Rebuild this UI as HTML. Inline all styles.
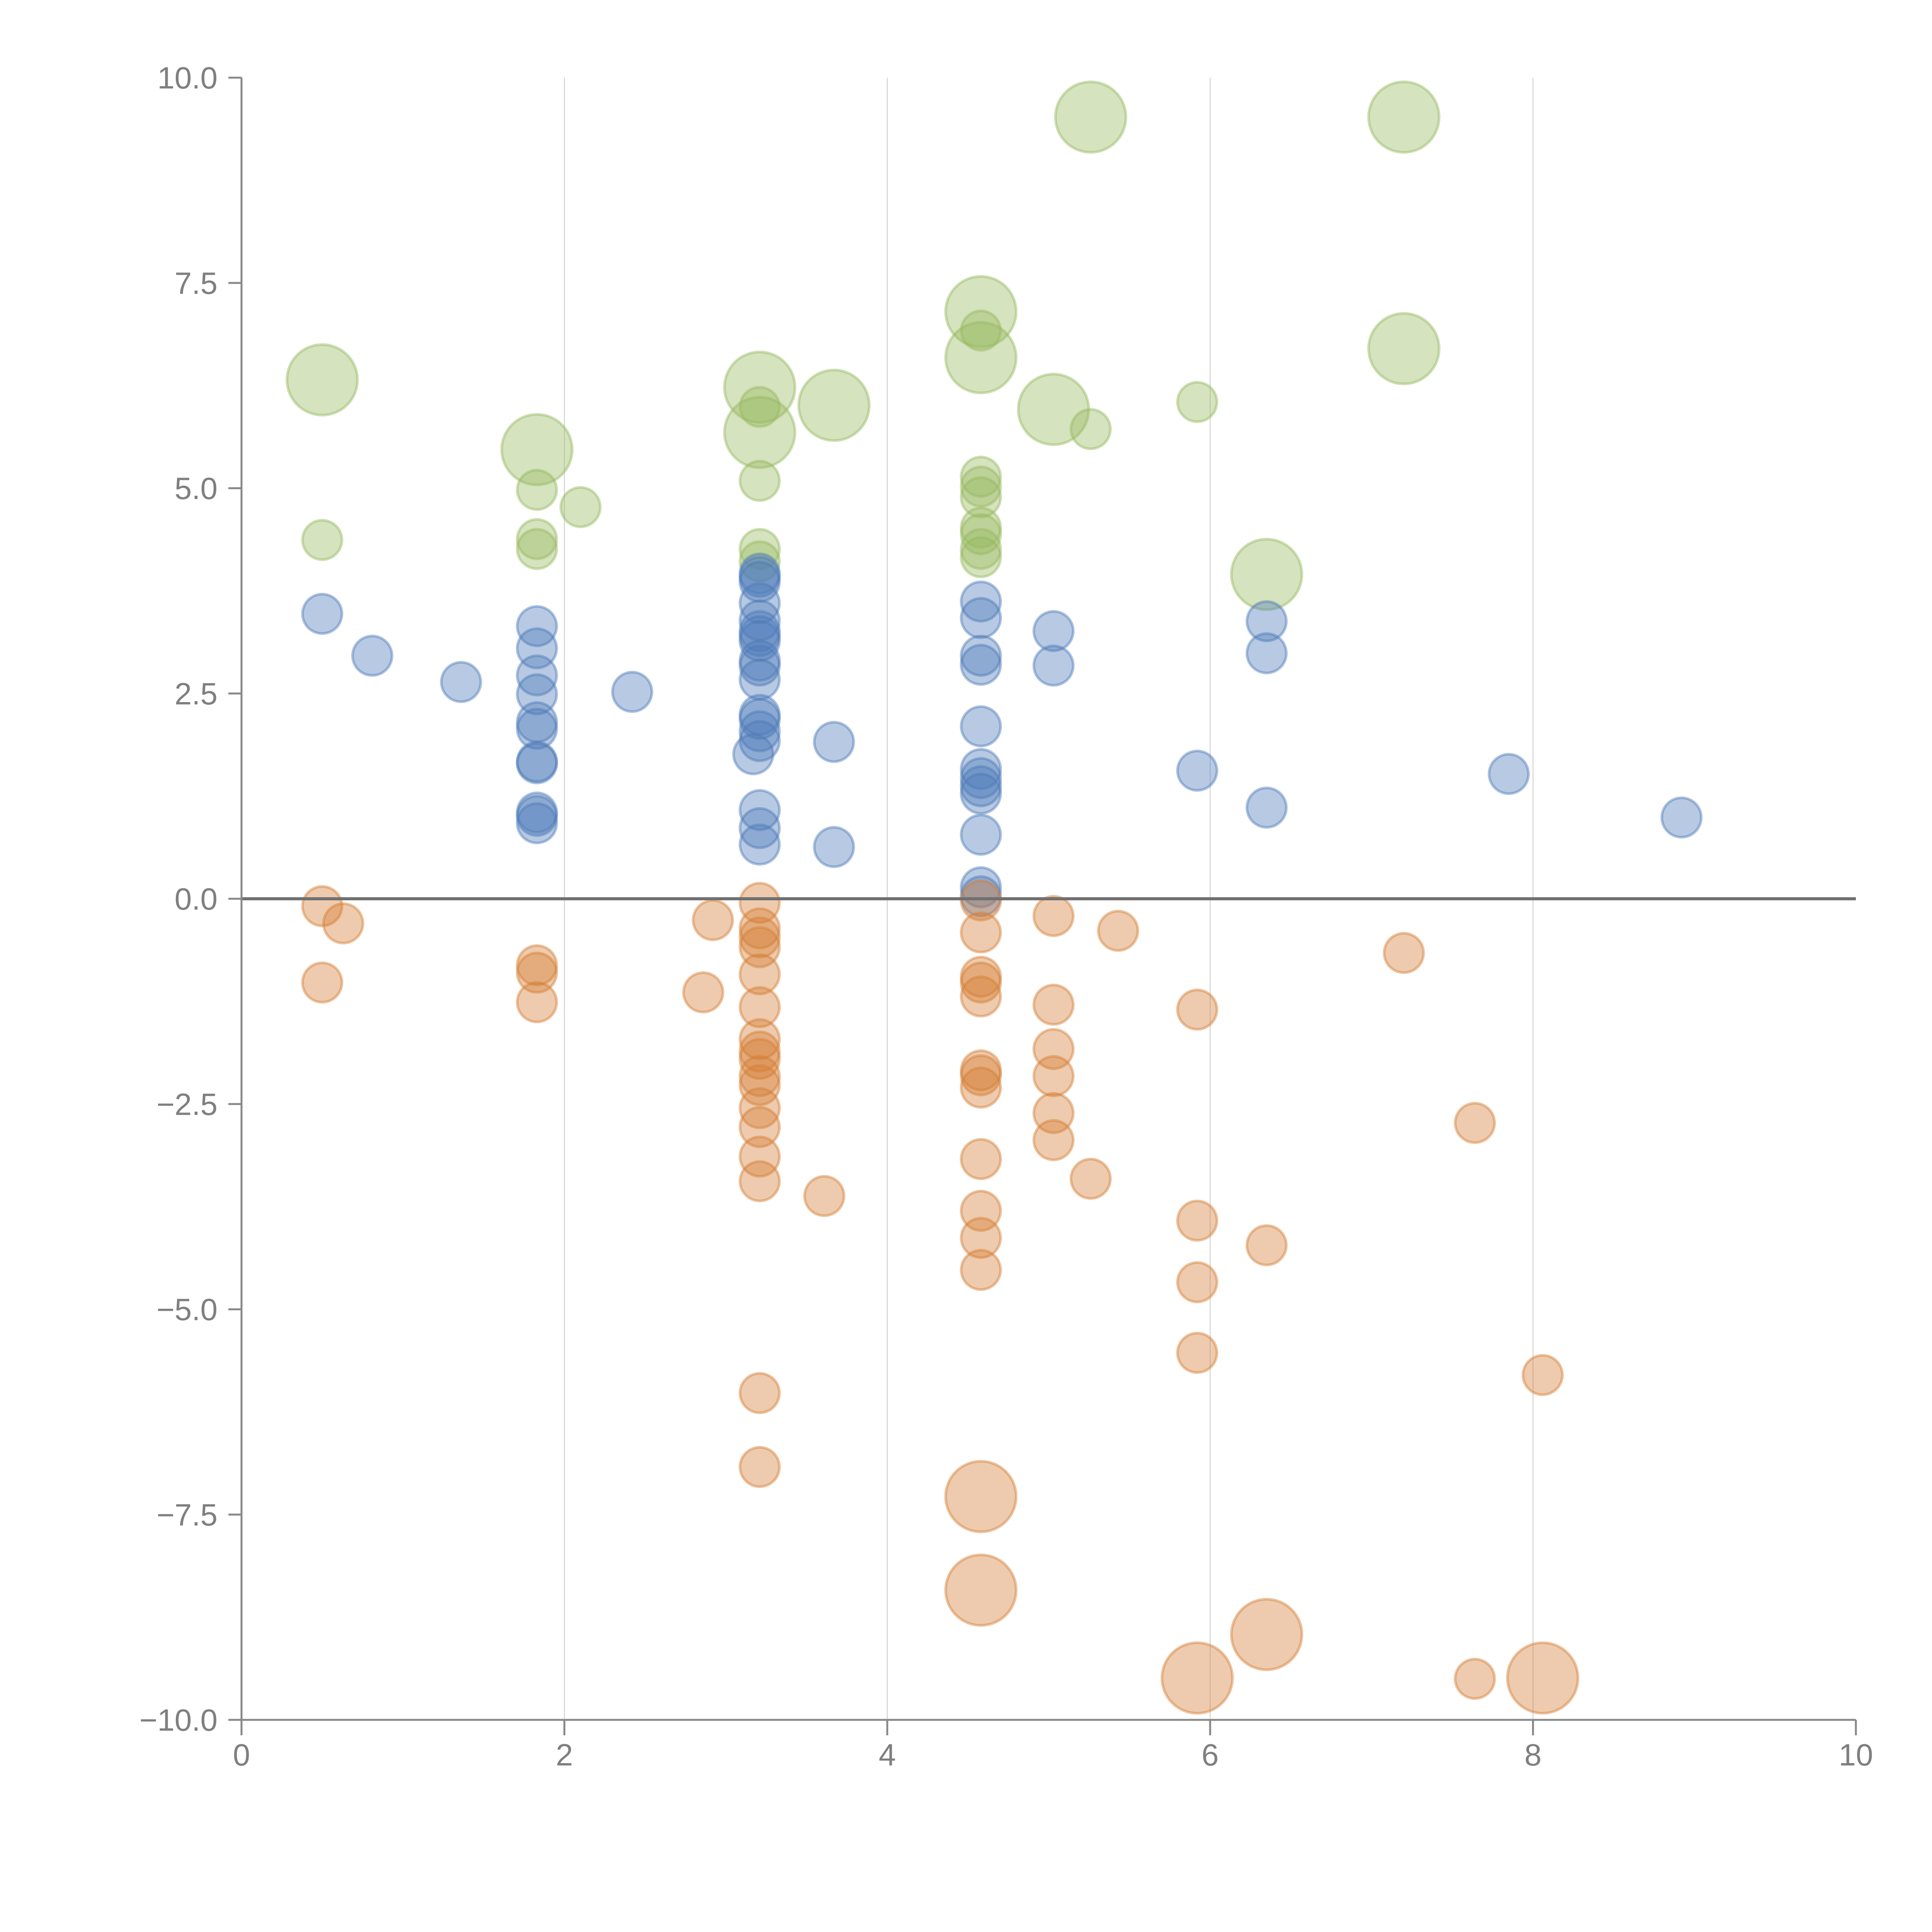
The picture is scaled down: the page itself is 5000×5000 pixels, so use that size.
<!DOCTYPE html>
<html><head><meta charset="utf-8">
<style>
html,body{margin:0;padding:0;background:#fff;}
svg{display:block;}
text{font-family:"Liberation Sans",Arial,sans-serif;fill:#7f7f7f;}
</style></head>
<body>
<svg id="chart" width="5000" height="5000" viewBox="0 0 5000 5000" xmlns="http://www.w3.org/2000/svg">
<g id="grid"></g>
<g id="marks"></g>
<g id="axes"></g>
</svg>
<script>
const xTicks = [0, 2, 4, 6, 8, 10];
const xTickLabels = ["0", "2", "4", "6", "8", "10"];
const yTicks = [-10, -7.5, -5, -2.5, 0, 2.5, 5, 7.5, 10];
const yTickLabels = ["\u221210.0", "\u22127.5", "\u22125.0", "\u22122.5", "0.0", "2.5", "5.0", "7.5", "10.0"];

const greenX = [0.50,0.50,1.83,1.83,1.83,1.83,2.10,3.21,3.21,3.21,3.21,3.21,3.21,3.67,4.58,4.58,4.58,4.58,4.58,4.58,4.58,4.58,4.58,4.58,5.03,5.26,5.26,5.92,6.35,7.20,7.20];
const greenY = [6.32,4.37,5.47,4.98,4.38,4.26,4.77,6.23,5.68,5.99,5.09,4.26,4.11,6.01,7.15,6.92,6.59,5.14,5.02,4.89,4.52,4.44,4.26,4.16,5.96,5.72,9.52,6.05,3.95,9.52,6.70];
const greenS = [32,10,32,10,10,10,10,32,32,10,10,10,10,32,32,10,32,10,10,10,10,10,10,10,32,10,32,10,32,32,32];

const blueX = [0.50,0.81,1.36,1.83,1.83,1.83,1.83,1.83,1.83,1.83,1.83,1.83,1.83,1.83,2.42,3.21,3.21,3.21,3.21,3.21,3.21,3.21,3.21,3.21,3.21,3.21,3.21,3.21,3.21,3.21,3.17,3.21,3.21,3.21,3.67,3.67,4.58,4.58,4.58,4.58,4.58,4.58,4.58,4.58,4.58,4.58,4.58,4.58,5.03,5.03,5.92,6.35,6.35,6.35,7.85,8.92];
const blueY = [3.47,2.96,2.64,3.32,3.05,2.72,2.49,2.15,2.07,1.67,1.65,1.05,1.01,0.92,2.52,3.96,3.92,3.86,3.60,3.39,3.26,3.20,3.14,2.90,2.84,2.67,2.24,2.19,2.04,1.92,1.76,1.08,0.86,0.66,1.91,0.63,3.62,3.42,2.96,2.85,2.10,1.58,1.47,1.37,1.28,0.78,0.14,0.03,3.26,2.84,1.56,3.38,2.99,1.11,1.52,0.99];

const orangeX = [0.50,0.63,0.50,1.83,1.83,1.83,2.86,2.92,3.21,3.21,3.21,3.21,3.21,3.21,3.21,3.21,3.21,3.21,3.21,3.21,3.21,3.21,3.21,3.21,3.21,3.61,4.58,4.58,4.58,4.58,4.58,4.58,4.58,4.58,4.58,4.58,4.58,4.58,4.58,4.58,5.03,5.03,5.03,5.03,5.03,5.03,5.26,5.43,5.92,5.92,5.92,5.92,5.92,6.35,6.35,7.20,7.64,7.64,8.06,8.06];
const orangeY = [-0.09,-0.30,-1.02,-0.81,-0.90,-1.26,-1.14,-0.26,-0.05,-0.36,-0.47,-0.59,-0.92,-1.32,-1.71,-1.86,-1.95,-2.16,-2.27,-2.55,-2.78,-3.14,-3.44,-6.02,-6.92,-3.62,-0.02,-0.41,-0.95,-1.02,-1.19,-2.09,-2.15,-2.30,-3.17,-3.80,-4.13,-4.52,-7.28,-8.42,-0.21,-1.29,-1.83,-2.16,-2.61,-2.94,-3.41,-0.39,-1.35,-3.92,-4.67,-5.53,-9.49,-4.22,-8.96,-0.66,-2.73,-9.50,-5.80,-9.49];
const orangeS = [10,10,10,10,10,10,10,10,10,10,10,10,10,10,10,10,10,10,10,10,10,10,10,10,10,10,10,10,10,10,10,10,10,10,10,10,10,10,32,32,10,10,10,10,10,10,10,10,10,10,10,10,32,10,32,10,10,10,10,32];

const X0 = 625, X1 = 4803, Y_TOP = 201, Y_BOT = 4451;
function sx(v){ return X0 + (v - 0) / 10 * (X1 - X0); }
function sy(v){ return Y_BOT - (v + 10) / 20 * (Y_BOT - Y_TOP); }
function sr(s){ return 51 * Math.sqrt(s / 10); }

const NS = "http://www.w3.org/2000/svg";
function mk(tag, attrs, parent){
  const el = document.createElementNS(NS, tag);
  for (const k in attrs) el.setAttribute(k, attrs[k]);
  parent.appendChild(el);
  return el;
}
const grid = document.getElementById('grid');
const marks = document.getElementById('marks');
const axes = document.getElementById('axes');

xTicks.forEach((t) => {
  if (t === 0 || t === 10) return;
  const l = mk('line', {x1: sx(t), x2: sx(t), y1: Y_TOP, y2: Y_BOT, stroke: '#c8c8c8', 'stroke-width': 2}, grid);
  
  
});

function drawSeries(xs, ys, ss, color, name){
  xs.forEach((x, i) => {
    const s = ss ? ss[i] : 10;
    const c = mk('circle', {cx: sx(x), cy: sy(ys[i]), r: sr(s), fill: color, 'fill-opacity': 0.4, stroke: color, 'stroke-opacity': 0.45, 'stroke-width': 7}, marks);
    
    
  });
}
drawSeries(greenX, greenY, greenS, '#96b95f', 'green');
drawSeries(blueX, blueY, null, '#4d7ab9', 'blue');
drawSeries(orangeX, orangeY, orangeS, '#d57e35', 'orange');

const z = mk('line', {x1: X0, x2: X1, y1: sy(0), y2: sy(0), stroke: '#707070', 'stroke-width': 8}, axes);



const ya = mk('line', {x1: X0, x2: X0, y1: Y_TOP, y2: Y_BOT, stroke: '#888', 'stroke-width': 5}, axes);


const xa = mk('line', {x1: X0, x2: X1, y1: Y_BOT, y2: Y_BOT, stroke: '#888', 'stroke-width': 5}, axes);



yTicks.forEach((t, i) => {
  const tk = mk('line', {x1: X0 - 34, x2: X0, y1: sy(t), y2: sy(t), stroke: '#888', 'stroke-width': 5}, axes);
  
  
  const tx = mk('text', {x: X0 - 62, y: sy(t) + 28, 'text-anchor': 'end', 'font-size': 80}, axes);
  tx.textContent = yTickLabels[i];
  
  
});
xTicks.forEach((t, i) => {
  const tk = mk('line', {x1: sx(t), x2: sx(t), y1: Y_BOT, y2: Y_BOT + 40, stroke: '#888', 'stroke-width': 5}, axes);
  
  
  const tx = mk('text', {x: sx(t), y: Y_BOT + 118, 'text-anchor': 'middle', 'font-size': 80}, axes);
  tx.textContent = xTickLabels[i];
  
  
});
</script>
</body></html>
